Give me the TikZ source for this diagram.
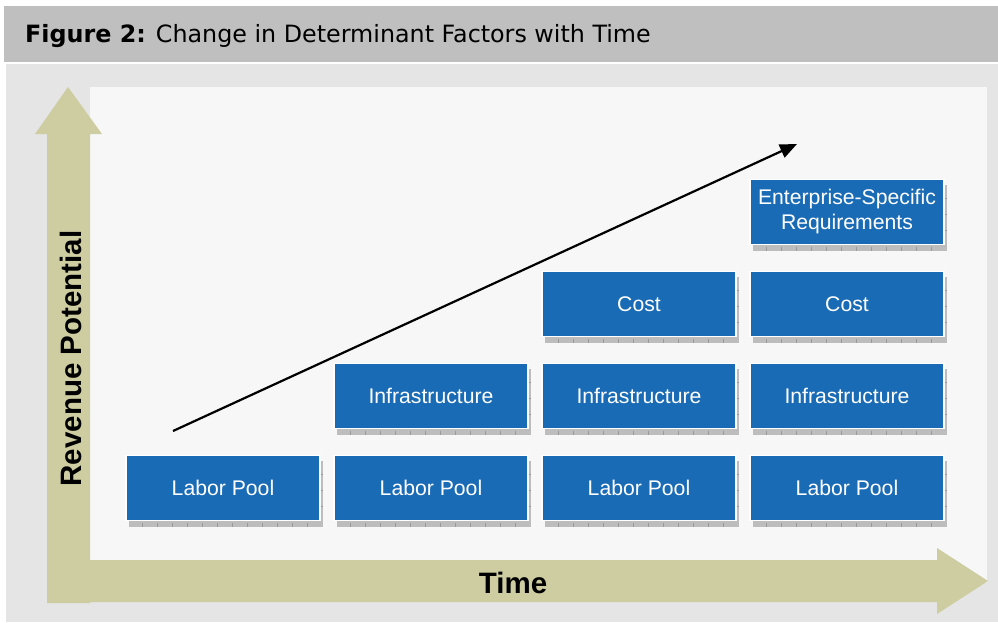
\documentclass[tikz,border=0pt]{standalone}
\usepackage{fontspec}
\setmainfont{Liberation Sans}
\newfontfamily\titlefont{DejaVu Sans}
\usetikzlibrary{arrows.meta}
\definecolor{barGray}{HTML}{BFBFBF}
\definecolor{panelGray}{HTML}{E5E5E5}
\definecolor{innerWhite}{HTML}{F7F7F7}
\definecolor{axisKhaki}{HTML}{CDCDA1}
\definecolor{boxBlue}{HTML}{1A6BB5}
\definecolor{shadowGray}{HTML}{BDBDBD}
\definecolor{tickGray}{HTML}{999999}
\tikzset{
  blk/.style={fill=boxBlue, draw=white, line width=1.5pt, text=white,
    minimum width=194pt, minimum height=65pt, inner sep=0pt, align=center,
    font=\fontsize{21.2}{25}\selectfont},
  tickline/.style={draw=tickGray, line width=0.6pt},
  axislabel/.style={font=\bfseries\fontsize{29.5}{32}\selectfont, text=black},
}
% factor box with its ruled drop shadow
\newcommand\factorbox[4]{%
  \begin{scope}[shift={(#2,#3)}]
    \fill[shadowGray] (-94,-28) rectangle (100,38.5);
    \foreach \t in {-81,-66,...,95} \draw[tickline] (\t,34) -- (\t,38.5);
    \foreach \t in {-14,2,18} \draw[tickline] (97.5,\t) -- (100,\t);
    \node[blk] (#1) at (0,-0.5) {#4};
  \end{scope}}
\begin{document}
\begin{tikzpicture}[x=1pt,y=-1pt]
  \useasboundingbox (0,0) rectangle (998,622);
  \fill[white] (0,0) rectangle (998,622);
  % title bar and panel
  \fill[barGray] (4,6) rectangle (998,62);
  \fill[panelGray] (6,64) rectangle (998,622);
  \fill[innerWhite] (90,87) rectangle (987,583);
  \node[anchor=base west, inner sep=0pt, font=\titlefont\fontsize{23.8}{26}\selectfont] (title) at (25,42)
    {\textbf{Figure 2:} Change in Determinant Factors with Time};
  % axes
  \fill[axisKhaki] (47,603) -- (47,134) -- (35,134) -- (68,87) -- (102,134) -- (90,134)
    -- (90,560) -- (937,560) -- (937,548) -- (988,581) -- (937,614) -- (937,602) -- (90,602) -- (90,603) -- cycle;
  \node[axislabel, rotate=90] (ylab) at (71,358.5) {Revenue Potential};
  \node[axislabel] (xlab) at (513,583) {Time};
  % factor boxes
  \factorbox{lp1}{223}{488.5}{Labor Pool}
  \factorbox{lp2}{431}{488.5}{Labor Pool}
  \factorbox{lp3}{639}{488.5}{Labor Pool}
  \factorbox{lp4}{847}{488.5}{Labor Pool}
  \factorbox{in2}{431}{396.5}{Infrastructure}
  \factorbox{in3}{639}{396.5}{Infrastructure}
  \factorbox{in4}{847}{396.5}{Infrastructure}
  \factorbox{co3}{639}{304.5}{Cost}
  \factorbox{co4}{847}{304.5}{Cost}
  \factorbox{es4}{847}{212.5}{Enterprise-Specific\\Requirements}
  % trend arrow
  \coordinate (trendStart) at (173,431);
  \coordinate (trendEnd) at (797,144);
  \draw[line width=2.2pt, -{Triangle[length=17pt,width=14pt]}] (trendStart) -- (trendEnd);
\end{tikzpicture}
\end{document}
